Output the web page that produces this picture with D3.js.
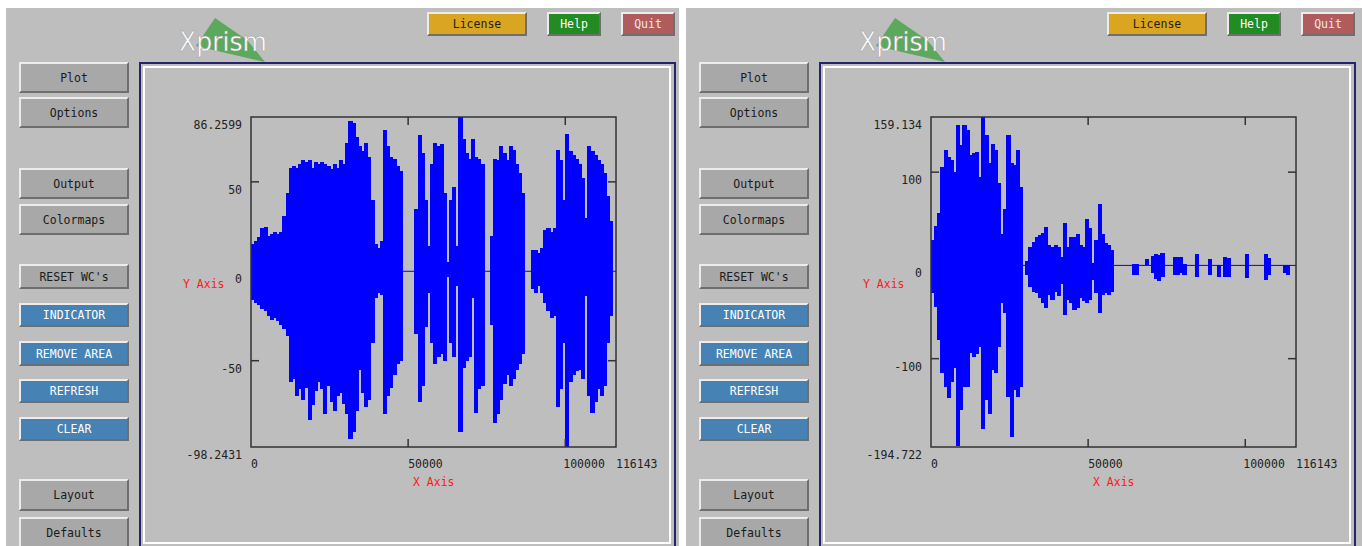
<!DOCTYPE html>
<html>
<head>
<meta charset="utf-8">
<script src="https://cdn.jsdelivr.net/npm/d3@7"></script>
<style>
  body { margin: 0; background: #fff; }
  svg { display: block; }
  text { font-family: "DejaVu Sans Mono", monospace; }
</style>
</head>
<body>
<div id="chart"></div>
<script>
// ---- data ----
const sampleCount = 116143;
const binSize = 1000;

// left waveform envelope, one value per 1000 samples
const leftMax = [15, 17, 19, 24, 25, 20, 21, 22, 21, 22, 31, 44, 58, 59, 58, 60, 62, 61, 62, 58,
  61, 60, 61, 60, 59, 57, 60, 58, 62, 60, 72, 84, 83, 75, 70, 67, 72, 64, 40, 15,
  13, 17, 79, 70, 64, 63, 59, 56, 0, 0, 0, 0, 35, 76, 66, 40, 14, 60, 72, 70,
  71, 44, 5, 40, 47, 14, 86, 74, 66, 63, 74, 64, 63, 60, 0, 0, 20, 63, 62, 70,
  66, 62, 70, 68, 60, 55, 44, 0, 0, 12, 12, 10, 13, 23, 24, 22, 24, 68, 62, 40,
  77, 67, 65, 63, 60, 52, 30, 70, 67, 65, 62, 60, 55, 42, 28, 0, 0];
const leftMin = [-16, -18, -19, -21, -22, -25, -27, -26, -28, -30, -32, -36, -62, -60, -70, -66, -72, -65, -83, -75,
  -67, -62, -66, -80, -64, -73, -78, -70, -68, -74, -80, -94, -90, -78, -55, -68, -76, -72, -40, -15,
  -12, -13, -80, -70, -65, -58, -52, -50, 0, 0, 0, 0, -35, -73, -64, -31, -12, -40, -52, -48,
  -46, -50, -3, -40, -48, -8, -90, -54, -50, -48, -15, -79, -66, -64, 0, 0, -30, -85, -80, -72,
  -63, -58, -64, -60, -55, -52, -46, 0, 0, -10, -12, -8, -12, -18, -22, -26, -25, -76, -66, -40,
  -98, -62, -58, -56, -55, -60, -14, -70, -79, -73, -66, -70, -64, -40, -25, 0, 0];

// right waveform envelope
const rightMax = [27, 42, 56, 106, 124, 116, 113, 100, 151, 129, 151, 145, 118, 120, 122, 95, 159, 140, 110, 130,
  124, 88, 34, 60, 140, 110, 108, 124, 84, 0, 5, 20, 25, 30, 33, 35, 41, 22, 20, 22,
  20, 9, 45, 20, 30, 30, 34, 22, 20, 50, 40, 3, 27, 66, 34, 24, 22, 17, 0, 0,
  0, 0, 0, 0, 2, 2, 0, 0, 7, 0, 10, 12, 11, 13, 0, 0, 0, 9, 9, 9,
  2, 0, 0, 0, 12, 0, 0, 0, 7, 0, 0, 0, 0, 9, 8, 0, 0, 0, 0, 0,
  12, 0, 0, 0, 0, 0, 12, 8, 0, 0, 0, 0, 0, 0, 0, 0, 0];
const rightMin = [-30, -45, -80, -115, -130, -142, -125, -110, -194, -155, -130, -130, -94, -98, -95, -87, -175, -144, -159, -112,
  -115, -87, -40, -51, -141, -184, -134, -141, -130, 0, -10, -23, -28, -30, -35, -40, -46, -32, -37, -28,
  -33, -20, -53, -37, -40, -48, -46, -35, -38, -40, -37, -16, -30, -51, -32, -30, -32, -28, 0, 0,
  0, 0, 0, 0, -10, -10, 0, 0, 0, 0, -8, -15, -17, -12, 0, 0, 0, -10, -10, -8,
  -10, 0, 0, 0, -12, 0, 0, 0, -10, 0, 0, -12, 0, -12, -12, 0, 0, 0, 0, 0,
  -14, 0, 0, 0, 0, 0, -16, -10, 0, 0, 0, 0, -8, -10, 0, 0, 0];

const leftDomain = [-98.2431, 86.2599];
const rightDomain = [-194.722, 159.134];
const leftYTicks = [50, 0, -50];
const rightYTicks = [100, 0, -100];
const xTicks = [50000, 100000];

const topButtons = [
  { label: "License", x: 427, w: 100, fill: "#daa520", color: "#222" },
  { label: "Help", x: 547, w: 54, fill: "#228b22", color: "#fff" },
  { label: "Quit", x: 621, w: 54, fill: "#b05c5c", color: "#f4e6e6" }
];
const sideButtons = [
  { label: "Plot", y: 62, h: 31, kind: "gray" },
  { label: "Options", y: 97, h: 31, kind: "gray" },
  { label: "Output", y: 168, h: 31, kind: "gray" },
  { label: "Colormaps", y: 204, h: 31, kind: "gray" },
  { label: "RESET WC's", y: 264, h: 25, kind: "gray" },
  { label: "INDICATOR", y: 303, h: 24, kind: "blue" },
  { label: "REMOVE AREA", y: 341, h: 25, kind: "blue" },
  { label: "REFRESH", y: 379, h: 24, kind: "blue" },
  { label: "CLEAR", y: 417, h: 24, kind: "blue" },
  { label: "Layout", y: 479, h: 32, kind: "gray" },
  { label: "Defaults", y: 517, h: 32, kind: "gray" }
];

const W = 1362, H = 546;
const svg = d3.select("#chart").append("svg")
  .attr("width", W)
  .attr("height", H);

svg.append("rect").attr("width", W).attr("height", H).attr("fill", "#fff");

function bevelButton(g, x, y, w, h, fill, label, color) {
  g.append("rect").attr("x", x).attr("y", y).attr("width", w).attr("height", h).attr("fill", fill);
  // light top/left, dark bottom/right
  g.append("path")
    .attr("d", `M${x},${y + h} L${x},${y} L${x + w},${y} L${x + w - 2},${y + 2} L${x + 2},${y + 2} L${x + 2},${y + h - 2} Z`)
    .attr("fill", "#ececec");
  g.append("path")
    .attr("d", `M${x + w},${y} L${x + w},${y + h} L${x},${y + h} L${x + 2},${y + h - 2} L${x + w - 2},${y + h - 2} L${x + w - 2},${y + 2} Z`)
    .attr("fill", "#6e6e6e");
  g.append("text")
    .attr("x", x + w / 2)
    .attr("y", y + h / 2 + 4)
    .attr("text-anchor", "middle")
    .style("font-size", "11.5px")
    .attr("fill", color)
    .text(label);
}

function drawPanel(offsetX, panelW, maxArr, minArr, domain, yTicks) {
  const g = svg.append("g").attr("transform", `translate(${offsetX},0)`);

  // window background
  g.append("rect").attr("x", 6).attr("y", 8).attr("width", panelW).attr("height", H - 8).attr("fill", "#bebebe");

  // logo
  g.append("polygon")
    .attr("points", "215,18 196,46 265,62 247,40")
    .attr("fill", "#5ca85c");
  g.append("text")
    .attr("x", 179).attr("y", 51)
    .attr("textLength", 88).attr("lengthAdjust", "spacingAndGlyphs")
    .style("font-family", "'DejaVu Sans', sans-serif")
    .style("font-size", "27px")
    .attr("fill", "#fff")
    .attr("stroke", "#9a9a9a").attr("stroke-width", 0.5)
    .text("Xprism");

  topButtons.forEach(b => bevelButton(g, b.x, 12, b.w, 24, b.fill, b.label, b.color));
  sideButtons.forEach(b => bevelButton(g, 19, b.y, 110, b.h,
    b.kind === "blue" ? "#4682b4" : "#a8a8a8", b.label, b.kind === "blue" ? "#fff" : "#1a1a1a"));

  // plot window frame
  g.append("rect").attr("x", 140).attr("y", 63).attr("width", 535).attr("height", 500)
    .attr("fill", "none").attr("stroke", "#23236e").attr("stroke-width", 2);
  g.append("rect").attr("x", 144).attr("y", 67).attr("width", 526).attr("height", 476)
    .attr("fill", "none").attr("stroke", "#fff").attr("stroke-width", 2);

  // plot area
  const left = 251, right = 616, top = 117, bottom = 447;
  const x = d3.scaleLinear().domain([0, sampleCount]).range([left, right]);
  const y = d3.scaleLinear().domain(domain).range([bottom, top]);

  const bins = maxArr.map((mx, i) => ({ i, max: mx, min: minArr[i] }))
    .filter(d => d.max !== 0 || d.min !== 0);

  // zero line
  g.append("line")
    .attr("x1", x(0)).attr("x2", x(sampleCount))
    .attr("y1", y(0)).attr("y2", y(0))
    .attr("stroke", "#0000ff").attr("stroke-width", 1);

  g.selectAll(".bin")
    .data(bins)
    .enter()
    .append("rect")
    .attr("class", "bin")
    .attr("shape-rendering", "crispEdges")
    .attr("x", d => x(d.i * binSize))
    .attr("width", d => x(Math.min((d.i + 1) * binSize, sampleCount)) - x(d.i * binSize) + 1)
    .attr("y", d => y(d.max))
    .attr("height", d => Math.max(1, y(d.min) - y(d.max)))
    .attr("fill", "#0000ff");

  // frame
  g.append("rect").attr("x", left).attr("y", top).attr("width", right - left).attr("height", bottom - top)
    .attr("fill", "none").attr("stroke", "#333").attr("stroke-width", 1.5);

  // inward ticks (the zero tick sits under the blue baseline)
  const tk = 8;
  xTicks.forEach(t => {
    g.append("line").attr("x1", x(t)).attr("x2", x(t)).attr("y1", bottom).attr("y2", bottom - tk)
      .attr("stroke", "#333").attr("stroke-width", 1.5);
    g.append("line").attr("x1", x(t)).attr("x2", x(t)).attr("y1", top).attr("y2", top + tk)
      .attr("stroke", "#333").attr("stroke-width", 1.5);
  });
  yTicks.filter(t => t !== 0).forEach(t => {
    g.append("line").attr("x1", left).attr("x2", left + tk).attr("y1", y(t)).attr("y2", y(t))
      .attr("stroke", "#333").attr("stroke-width", 1.5);
    g.append("line").attr("x1", right).attr("x2", right - tk).attr("y1", y(t)).attr("y2", y(t))
      .attr("stroke", "#333").attr("stroke-width", 1.5);
  });

  // y labels (min, ticks, max)
  const yLabels = [{ v: domain[1], s: String(domain[1]) }]
    .concat(yTicks.map(t => ({ v: t, s: String(t) })))
    .concat([{ v: domain[0], s: String(domain[0]) }]);
  g.selectAll(".ylab").data(yLabels).enter().append("text")
    .attr("x", 242)
    .attr("y", d => y(d.v) + 12)
    .attr("text-anchor", "end")
    .style("font-size", "11.5px")
    .attr("fill", "#222")
    .text(d => d.s);

  const xLabels = [0].concat(xTicks).concat([sampleCount]);
  g.selectAll(".xlab").data(xLabels).enter().append("text")
    .attr("x", d => x(d) - (d === 100000 ? 2 : 0))
    .attr("y", 468)
    .style("font-size", "11.5px")
    .attr("fill", "#222")
    .text(d => String(d));

  g.append("text").attr("x", 183).attr("y", 288)
    .style("font-size", "11.5px").attr("fill", "#ff1a1a").text("Y Axis");
  g.append("text").attr("x", 413).attr("y", 486)
    .style("font-size", "11.5px").attr("fill", "#ff1a1a").text("X Axis");
}

drawPanel(0, 673, leftMax, leftMin, leftDomain, leftYTicks);
drawPanel(680, 676, rightMax, rightMin, rightDomain, rightYTicks);
</script>
</body>
</html>
